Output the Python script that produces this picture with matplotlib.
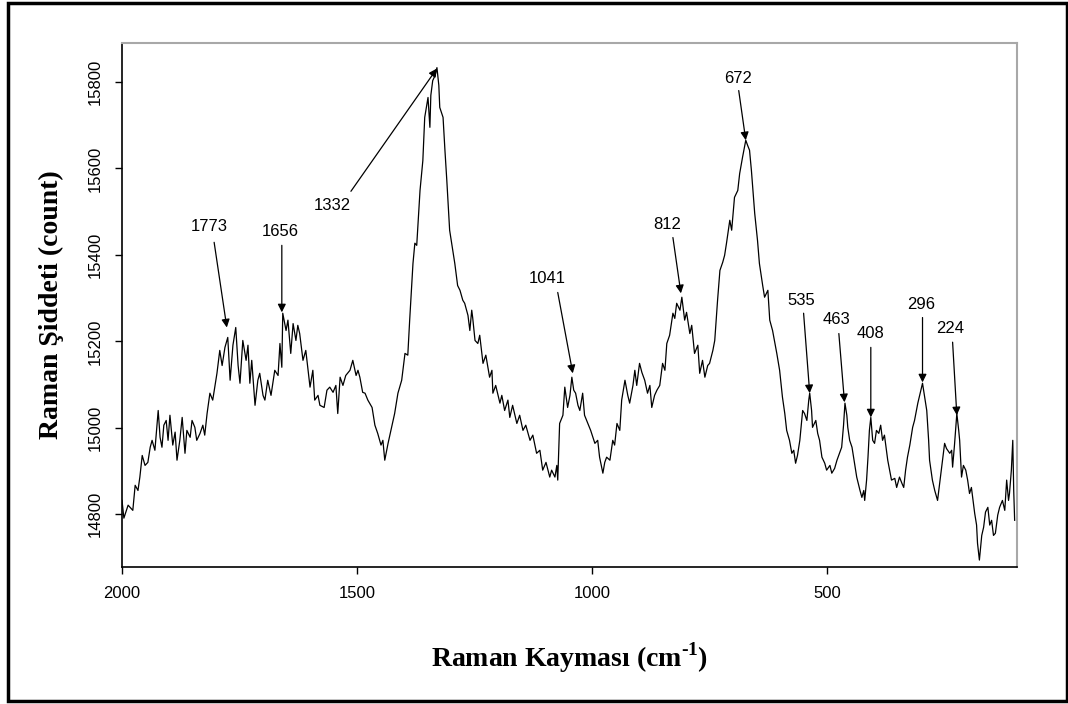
import matplotlib
matplotlib.use('Agg')
import matplotlib.pyplot as plt
from matplotlib.patches import Rectangle

plt.rcParams['font.family'] = 'Liberation Sans'
plt.rcParams['mathtext.fontset'] = 'custom'
plt.rcParams['mathtext.rm'] = 'Liberation Serif:bold'
plt.rcParams['mathtext.bf'] = 'Liberation Serif:bold'

# Raman spectrum (wavenumber cm-1, counts)
wavenumber = [
    2000, 1996, 1987, 1977, 1972, 1966, 1962, 1957, 1951, 1945, 1940, 1936, 1930, 1923, 1919, 1915,
    1911, 1906, 1902, 1898, 1892, 1887, 1883, 1877, 1872, 1866, 1862, 1855, 1851, 1845, 1841, 1834,
    1828, 1824, 1819, 1813, 1807, 1798, 1792, 1787, 1781, 1775, 1770, 1764, 1758, 1753, 1749, 1743,
    1736, 1732, 1728, 1724, 1717, 1711, 1707, 1700, 1696, 1690, 1683, 1675, 1668, 1664, 1660, 1658,
    1651, 1647, 1641, 1636, 1630, 1626, 1622, 1615, 1609, 1600, 1594, 1590, 1583, 1579, 1570, 1564,
    1558, 1551, 1545, 1541, 1536, 1530, 1524, 1515, 1509, 1502, 1498, 1494, 1488, 1483, 1477, 1468,
    1462, 1456, 1449, 1445, 1441, 1434, 1428, 1420, 1413, 1405, 1398, 1392, 1388, 1381, 1377, 1373,
    1366, 1360, 1356, 1349, 1345, 1343, 1339, 1334, 1330, 1326, 1324, 1317, 1313, 1309, 1303, 1298,
    1292, 1286, 1281, 1275, 1271, 1264, 1260, 1256, 1254, 1249, 1243, 1239, 1232, 1226, 1218, 1213,
    1211, 1205, 1196, 1192, 1186, 1179, 1175, 1169, 1160, 1154, 1147, 1141, 1132, 1126, 1118, 1111,
    1105, 1098, 1090, 1086, 1079, 1075, 1073, 1069, 1062, 1058, 1052, 1047, 1043, 1039, 1035, 1030,
    1026, 1020, 1016, 1009, 1003, 994, 988, 984, 977, 973, 969, 962, 956, 952, 947, 941,
    937, 930, 924, 920, 913, 909, 905, 899, 894, 888, 882, 877, 873, 867, 862, 856,
    850, 845, 841, 835, 828, 824, 820, 813, 809, 803, 799, 792, 788, 782, 775, 771,
    765, 760, 754, 750, 743, 739, 733, 728, 722, 718, 714, 707, 703, 697, 690, 686,
    680, 673, 669, 665, 661, 654, 648, 644, 637, 633, 626, 622, 616, 607, 601, 595,
    590, 586, 580, 575, 571, 567, 563, 558, 552, 548, 543, 539, 537, 533, 531, 524,
    520, 516, 511, 505, 501, 494, 490, 484, 479, 473, 469, 465, 462, 458, 456, 452,
    447, 441, 437, 430, 426, 422, 420, 416, 413, 410, 407, 403, 399, 395, 390, 386,
    382, 378, 371, 367, 363, 356, 352, 346, 341, 337, 333, 329, 324, 318, 314, 307,
    303, 297, 293, 288, 284, 282, 276, 271, 265, 261, 256, 250, 246, 239, 235, 233,
    229, 224, 220, 218, 214, 210, 205, 201, 197, 193, 186, 182, 180, 176, 171, 167,
    163, 158, 154, 150, 146, 142, 137, 133, 127, 122, 118, 114, 112, 108, 105, 103, 101,
]
intensity = [
    14832, 14791, 14821, 14809, 14867, 14855, 14886, 14936, 14913, 14920, 14955, 14971, 14948, 15040, 14978, 14955,
    15006, 15017, 14971, 15029, 14960, 14990, 14925, 14971, 15024, 14941, 14994, 14978, 15017, 15001, 14971, 14987,
    15006, 14983, 15033, 15080, 15064, 15126, 15179, 15144, 15186, 15209, 15110, 15191, 15232, 15144, 15103, 15202,
    15156, 15191, 15103, 15156, 15052, 15110, 15126, 15075, 15064, 15110, 15075, 15133, 15121, 15195, 15140, 15265,
    15225, 15249, 15172, 15241, 15202, 15237, 15218, 15156, 15179, 15094, 15133, 15064, 15075, 15052, 15047, 15087,
    15094, 15082, 15098, 15033, 15117, 15098, 15121, 15133, 15156, 15121, 15133, 15117, 15082, 15080, 15064, 15047,
    15006, 14987, 14960, 14971, 14925, 14964, 14994, 15033, 15080, 15110, 15172, 15168, 15249, 15380, 15427, 15422,
    15549, 15618, 15718, 15764, 15695, 15769, 15803, 15815, 15833, 15792, 15741, 15718, 15642, 15572, 15457, 15422,
    15380, 15329, 15318, 15295, 15288, 15260, 15225, 15272, 15255, 15202, 15195, 15214, 15149, 15168, 15117, 15133,
    15080, 15098, 15057, 15075, 15040, 15064, 15024, 15052, 15010, 15029, 14994, 15006, 14971, 14983, 14941, 14948,
    14902, 14920, 14886, 14902, 14886, 14913, 14879, 15010, 15029, 15094, 15047, 15075, 15117, 15087, 15080, 15052,
    15040, 15080, 15029, 15010, 14994, 14964, 14971, 14932, 14895, 14920, 14932, 14925, 14971, 14960, 15010, 14994,
    15064, 15110, 15075, 15057, 15098, 15133, 15098, 15149, 15128, 15110, 15080, 15098, 15047, 15075, 15087, 15098,
    15149, 15133, 15195, 15214, 15265, 15253, 15288, 15272, 15302, 15249, 15267, 15218, 15237, 15172, 15191, 15126,
    15156, 15117, 15144, 15149, 15179, 15202, 15295, 15364, 15383, 15399, 15427, 15480, 15457, 15533, 15549, 15588,
    15625, 15665, 15653, 15642, 15595, 15496, 15433, 15380, 15329, 15302, 15318, 15249, 15225, 15172, 15133, 15071,
    15033, 14994, 14971, 14941, 14948, 14918, 14936, 14971, 15040, 15033, 15017, 15064, 15080, 15040, 15001, 15017,
    14987, 14971, 14932, 14918, 14902, 14913, 14895, 14906, 14925, 14943, 14955, 15006, 15057, 15029, 15001, 14971,
    14955, 14913, 14886, 14855, 14839, 14855, 14832, 14879, 14932, 14994, 15024, 14971, 14964, 14994, 14987, 15006,
    14971, 14983, 14925, 14902, 14879, 14883, 14862, 14886, 14872, 14862, 14902, 14932, 14960, 15001, 15017, 15057,
    15075, 15103, 15075, 15040, 14971, 14925, 14879, 14855, 14832, 14867, 14909, 14964, 14952, 14941, 14948, 14909,
    14960, 15033, 14994, 14971, 14886, 14913, 14902, 14879, 14848, 14862, 14802, 14775, 14733, 14694, 14751, 14770,
    14805, 14816, 14775, 14786, 14751, 14756, 14798, 14816, 14832, 14809, 14879, 14832, 14848, 14902, 14971, 14855, 14786,
]

# peak labels: text, arrow tip (x, y), arrow tail (x, y), label centre
peak_labels = ['1773', '1656', '1332', '1041', '812', '672', '535', '463', '408', '296', '224']
tip_x = [1777, 1660, 1330, 1041, 811, 673, 537, 463, 407, 297, 224]
tip_y = [15232, 15267, 15831, 15126, 15311, 15665, 15080, 15059, 15024, 15105, 15029]
tail_x = [1804, 1660, 1513, 1073, 828, 688, 550, 475, 407, 297, 233]
tail_y = [15429, 15422, 15547, 15313, 15440, 15780, 15265, 15218, 15186, 15255, 15198]
text_x = [1815, 1664, 1553, 1095, 840, 690, 555, 481, 407, 299, 238]
text_y = [15465, 15455, 15513, 15345, 15470, 15808, 15295, 15250, 15218, 15285, 15230]

fig = plt.figure(figsize=(10.68, 7.04), dpi=100)
ax = fig.add_axes([122 / 1068, 137 / 704, 895 / 1068, 524 / 704])

ax.plot(wavenumber, intensity, color='black', lw=0.9)

for lab, tx, ty, sx, sy, lx, ly in zip(peak_labels, tip_x, tip_y, tail_x, tail_y, text_x, text_y):
    ax.annotate('', xy=(tx, ty), xytext=(sx, sy),
                arrowprops=dict(arrowstyle='-|>', color='black', lw=0.9,
                                mutation_scale=12, shrinkA=0, shrinkB=0))
    ax.text(lx, ly, lab, ha='center', va='center', fontsize=12)

ax.set_xlim(2000, 96)
ax.set_ylim(14678, 15890)
ax.set_xticks([2000, 1500, 1000, 500])
ax.set_yticks([14800, 15000, 15200, 15400, 15600, 15800])
ax.tick_params(axis='x', direction='out', length=5, width=1, labelsize=12, pad=9)
ax.tick_params(axis='y', direction='out', length=5, width=1, labelsize=12, pad=9)
for lbl in ax.get_yticklabels():
    lbl.set_rotation(90)
    lbl.set_va('center')

ax.spines['left'].set_linewidth(1.2)
ax.spines['bottom'].set_linewidth(1.2)
ax.spines['top'].set_color('#a8a8a8')
ax.spines['right'].set_color('#a8a8a8')
ax.spines['top'].set_linewidth(1.5)
ax.spines['right'].set_linewidth(1.5)

ax.set_xlabel('Raman Kayması (cm$^{\u20101}$)', family='Liberation Serif', fontweight='bold',
              fontsize=20, labelpad=28)
ax.set_ylabel('Raman Şiddeti (count)', family='Liberation Serif', fontweight='bold',
              fontsize=20, labelpad=17)

# outer frame round the whole picture
fig.patches.append(Rectangle((7.5 / 1068, 3 / 704), 1059 / 1068, 698.5 / 704,
                             transform=fig.transFigure, fill=False,
                             edgecolor='black', lw=2.5))

fig.savefig('out.png', dpi=100)
